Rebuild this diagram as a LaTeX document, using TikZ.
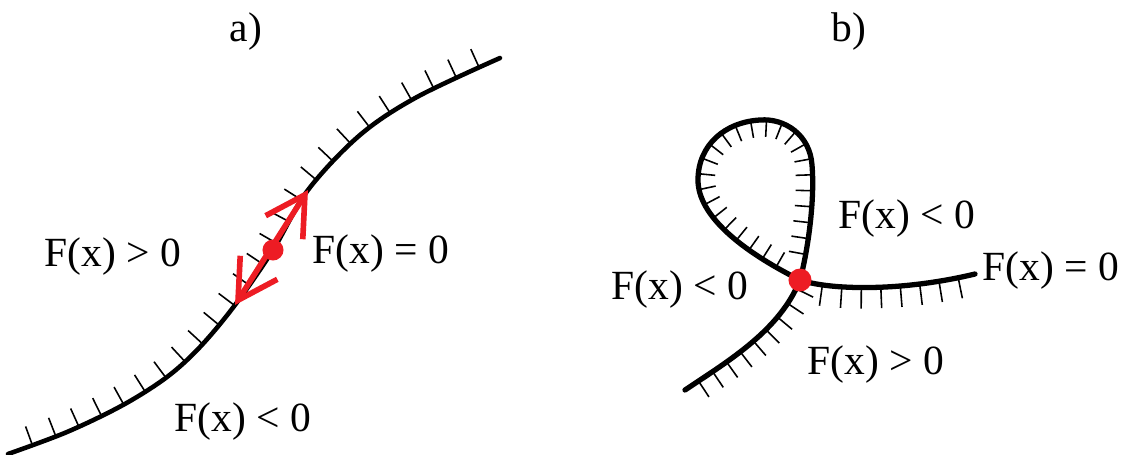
\documentclass[tikz,border=0pt]{standalone}
\usepackage{fontspec}
\setmainfont{Liberation Serif}
\usetikzlibrary{decorations.markings,arrows.meta}
\definecolor{pred}{RGB}{237,28,36}
\tikzset{
 curvea/.style={line width=1.3pt, line cap=round, line join=round},
 curveb/.style={line width=1.5pt, line cap=round, line join=round},
 tickmark/.style={line width=0.45pt, line cap=butt},
 hatch/.style n args={4}{postaction={decorate, decoration={markings,
   mark=between positions #1 and #2 step #3 with {\draw[tickmark] (0pt,0pt) -- (0pt,#4);}}}},
 lbl/.style={font=\fontsize{11.8pt}{13.5pt}\selectfont, inner sep=0pt},
 dot/.style={circle, fill=pred, inner sep=0pt, minimum size=#1},
 redarr/.style={draw=pred, line width=1.6pt, line cap=round,
   {Straight Barb[length=11pt,width=12.5pt]}-{Straight Barb[length=11pt,width=12.5pt]}},
}
\begin{document}
\begin{tikzpicture}[x=0.01cm, y=-0.01cm]
\useasboundingbox (0,0) rectangle (1129,454);
% titles
\node[lbl] (ta) at (246,32) {a)};
\node[lbl] (tb) at (849,32) {b)};
% ---- a)
\coordinate (T1) at (308,190);
\coordinate (T2) at (235,305);
\draw[curvea, hatch={0.04}{0.98}{0.25cm}{0.2cm}] plot[smooth, tension=0.55] coordinates
 {(8,454) (67,432) (123,405) (167,377) (200,347) (235,305) (273,250) (308,190) (360,135) (417,97) (500,58)};
\draw[redarr] (T2) -- (T1);
\node[dot=0.21cm] (P) at (273,250) {};
\node[lbl] (ag) at (113,257) {F(x) > 0};
\node[lbl] (ae) at (381,254) {F(x) = 0};
\node[lbl] (al) at (243,422) {F(x) < 0};
% ---- b)
\coordinate (D) at (800,280);
\draw[curveb, hatch={0.1}{0.97}{0.17cm}{-0.19cm}] (685,390) .. controls (730,360) and (780,330) .. (D);
\draw[curveb, hatch={0.06}{0.94}{0.16cm}{0.17cm}] (D) .. controls (808,250) and (815,200) .. (812,165)
  .. controls (810,135) and (785,118) .. (760,120)
  .. controls (725,122) and (698,145) .. (698,180)
  .. controls (698,215) and (740,250) .. (D);
\draw[curveb, hatch={0.13}{0.92}{0.195cm}{-0.21cm}] (D) .. controls (830,290) and (900,292) .. (975,274);
\node[dot=0.23cm] (Q) at (D) {};
\node[lbl] (bu) at (907,219) {F(x) < 0};
\node[lbl] (bl) at (680,290) {F(x) < 0};
\node[lbl] (bg) at (876,365) {F(x) > 0};
\node[lbl] (be) at (1051,271) {F(x) = 0};
\end{tikzpicture}
\end{document}
